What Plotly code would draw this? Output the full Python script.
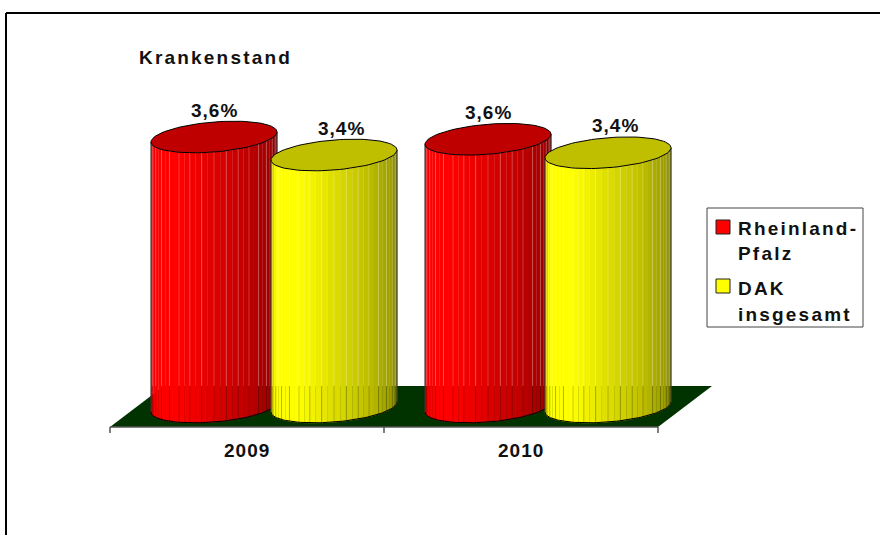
import numpy as np
import plotly.graph_objects as go

YEARS = ["2009", "2010"]
RHEINLAND = [3.6, 3.57]
DAK = [3.36, 3.39]
RHEINLAND_LABELS = ["3,6%", "3,6%"]
DAK_LABELS = ["3,4%", "3,4%"]

RED = (255, 0, 0)
YELLOW = (255, 255, 0)
FLOOR = "#003300"
FONT = "Liberation Sans"
TEXT = "#111111"

W, H = 880, 535
BASE_PX = 407  # pixel row of value 0 at the cylinder centre
PX_PER_UNIT = 75
PX_PER_CAT = 274
FIRST_PX = 274  # pixel column of the first category centre

RX = 63 / PX_PER_CAT
RY = 15 / PX_PER_UNIT
TILT = 5 / PX_PER_UNIT
OFFSET = 60 / PX_PER_CAT
FLOOR_FRONT = -20 / PX_PER_UNIT
FLOOR_BACK = 21 / PX_PER_UNIT
FLOOR_SKEW = 27 / PX_PER_CAT
N_STRIPS = 32


def spaced(text, gap):
    return f'<span style="letter-spacing:{gap}px">{text}</span>'


def shade(color, u):
    f = np.interp(u, [-1, -0.93, -0.55, 0, 0.5, 0.9, 1], [0.85, 1, 1, 0.87, 0.76, 0.62, 0.5])
    return "rgb({},{},{})".format(*[int(c * f) for c in color])


def front_y(u):
    return -RY * np.sqrt(1 - u**2) + TILT * u


def add_cylinder(fig, cx, value, color):
    us = -np.cos(np.linspace(0, np.pi, N_STRIPS + 1))
    for a, b in zip(us[:-1], us[1:]):
        seg = np.linspace(a, b, 4)
        xs = np.concatenate([cx + seg * RX, cx + seg[::-1] * RX])
        ys = np.concatenate([front_y(seg), value + front_y(seg[::-1])])
        c = shade(color, (a + b) / 2)
        fig.add_trace(go.Scatter(x=xs, y=ys, mode="lines", fill="toself", fillcolor=c,
                                 line=dict(color=c, width=0.5), hoverinfo="skip", showlegend=False))

    # strip seams: light above the floor's back edge, dark in front of it
    light_x, light_y, dark_x, dark_y = [], [], [], []
    for u in us[2:-2:2]:
        x = cx + u * RX
        light_x += [x, x, None]
        light_y += [FLOOR_BACK, value + front_y(u), None]
        dark_x += [x, x, None]
        dark_y += [front_y(u), FLOOR_BACK, None]
    fig.add_trace(go.Scatter(x=light_x, y=light_y, mode="lines", hoverinfo="skip", showlegend=False,
                             line=dict(color="rgba(255,255,255,0.22)", width=1)))
    fig.add_trace(go.Scatter(x=dark_x, y=dark_y, mode="lines", hoverinfo="skip", showlegend=False,
                             line=dict(color="rgba(0,0,0,0.2)", width=1)))

    # outline
    seg = -np.cos(np.linspace(0, np.pi, 60))
    fig.add_trace(go.Scatter(x=[cx - RX, cx - RX], y=[value - TILT, -TILT], mode="lines", hoverinfo="skip",
                             showlegend=False, line=dict(color="#333333", width=1)))
    fig.add_trace(go.Scatter(x=[cx + RX, cx + RX], y=[value + TILT, TILT], mode="lines", hoverinfo="skip",
                             showlegend=False, line=dict(color="#333333", width=1)))
    fig.add_trace(go.Scatter(x=cx + seg * RX, y=front_y(seg), mode="lines", hoverinfo="skip",
                             showlegend=False, line=dict(color="#000000", width=1)))

    # top ellipse
    t = np.linspace(0, 2 * np.pi, 90)
    u = np.cos(t)
    top_y = value + RY * np.sin(t) + TILT * u
    top = "rgb({},{},{})".format(*[int(c * 0.75) for c in color])
    fig.add_trace(go.Scatter(x=cx + u * RX, y=top_y, mode="lines", fill="toself", fillcolor=top, hoverinfo="skip",
                             showlegend=False, line=dict(color="#000000", width=1)))


fig = go.Figure()

# floor
n = len(YEARS)
left = -0.5 - FLOOR_SKEW
right = n - 0.5 - FLOOR_SKEW
fig.add_trace(go.Scatter(
    x=[left, right, right + 2 * FLOOR_SKEW, left + 2 * FLOOR_SKEW, left],
    y=[FLOOR_FRONT, FLOOR_FRONT, FLOOR_BACK, FLOOR_BACK, FLOOR_FRONT],
    mode="lines", fill="toself", fillcolor=FLOOR, line=dict(color=FLOOR, width=0),
    hoverinfo="skip", showlegend=False))

for i, year in enumerate(YEARS):
    add_cylinder(fig, i - OFFSET, RHEINLAND[i], RED)
    add_cylinder(fig, i + OFFSET, DAK[i], YELLOW)

# category axis line and ticks
tick_len = 6 / PX_PER_UNIT
ax_x, ax_y = [left, right, None], [FLOOR_FRONT, FLOOR_FRONT, None]
for i in range(n + 1):
    ax_x += [left + i, left + i, None]
    ax_y += [FLOOR_FRONT, FLOOR_FRONT - tick_len, None]
fig.add_trace(go.Scatter(x=ax_x, y=ax_y, mode="lines", hoverinfo="skip", showlegend=False,
                         line=dict(color="#555555", width=1.5)))

BOLD = dict(family=FONT, size=19, color=TEXT, weight="bold")

annotations = []
for i, year in enumerate(YEARS):
    annotations.append(dict(x=i - FLOOR_SKEW, y=FLOOR_FRONT - 23 / PX_PER_UNIT, text=spaced(year, 1),
                            showarrow=False, font=BOLD))
    annotations.append(dict(x=i - OFFSET, y=RHEINLAND[i] + 27 / PX_PER_UNIT, text=spaced(RHEINLAND_LABELS[i], 1),
                            showarrow=False, font=BOLD))
    annotations.append(dict(x=i + OFFSET + 7 / PX_PER_CAT, y=DAK[i] + 27 / PX_PER_UNIT, text=spaced(DAK_LABELS[i], 1),
                            showarrow=False, font=BOLD))


def paper_text(text, x, y):
    return dict(x=x / W, y=1 - y / H, xref="paper", yref="paper", xanchor="left", yanchor="middle",
                showarrow=False, text=spaced(text, 2.2), font=BOLD)


annotations += [paper_text("Krankenstand", 137, 58), paper_text("Rheinland-", 736, 228),
                paper_text("Pfalz", 736, 254), paper_text("DAK", 736, 288), paper_text("insgesamt", 736, 314)]


def paper_rect(x0, y0, x1, y1, line, fill="rgba(0,0,0,0)", width=1):
    return dict(type="rect", xref="paper", yref="paper", x0=x0 / W, x1=x1 / W, y0=1 - y0 / H, y1=1 - y1 / H,
                line=dict(color=line, width=width), fillcolor=fill)


shapes = [
    # frame around the picture, open on the right and at the bottom
    dict(type="line", xref="paper", yref="paper", x0=6 / W, x1=1, y0=1 - 13 / H, y1=1 - 13 / H,
         line=dict(color="#000000", width=2)),
    dict(type="line", xref="paper", yref="paper", x0=6 / W, x1=6 / W, y0=1 - 13 / H, y1=0,
         line=dict(color="#000000", width=2)),
    paper_rect(707, 208, 863, 327, "#444444"),
    paper_rect(716, 220, 730, 234, "#222222", "#FF0000"),
    paper_rect(716, 279, 730, 293, "#222222", "#FFFF00"),
]

fig.update_layout(
    width=W,
    height=H,
    margin=dict(l=0, r=0, t=0, b=0),
    paper_bgcolor="#FFFFFF",
    plot_bgcolor="#FFFFFF",
    showlegend=False,
    annotations=annotations,
    shapes=shapes,
    xaxis=dict(visible=False, range=[-FIRST_PX / PX_PER_CAT, (W - FIRST_PX) / PX_PER_CAT]),
    yaxis=dict(visible=False, range=[(BASE_PX - H) / PX_PER_UNIT, BASE_PX / PX_PER_UNIT]),
)

fig.write_html("out.html", config={"displayModeBar": False}, post_script="document.body.style.margin='0';")
